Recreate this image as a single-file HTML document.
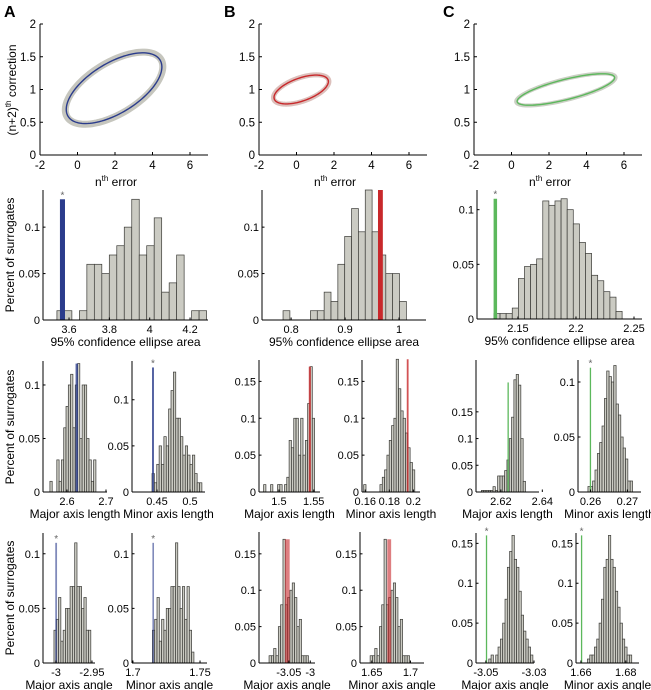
<!DOCTYPE html>
<html><head><meta charset="utf-8">
<style>
html,body{margin:0;padding:0;background:#fff;}
svg{display:block;font-family:"Liberation Sans",Arial,sans-serif;}
</style></head>
<body>
<svg id="fig" width="651" height="690" viewBox="0 0 651 690" xmlns="http://www.w3.org/2000/svg">
<text x="4" y="17" font-size="16" font-weight="bold">A</text>
<text x="224" y="17" font-size="16" font-weight="bold">B</text>
<text x="443" y="17" font-size="16" font-weight="bold">C</text>
<text transform="translate(16,90) rotate(-90)" text-anchor="middle" font-size="12">(n+2)<tspan font-size="8" dy="-5">th</tspan><tspan dy="5"> correction</tspan></text>
<text transform="translate(14,255) rotate(-90)" text-anchor="middle" font-size="12">Percent of surrogates</text>
<text transform="translate(14,427) rotate(-90)" text-anchor="middle" font-size="12">Percent of surrogates</text>
<text transform="translate(14,598) rotate(-90)" text-anchor="middle" font-size="12">Percent of surrogates</text>
</svg>
<script>
// ---------- ellipse data (data units) ----------
const ellipseCx = [1.95, 0.25, 2.9];
const ellipseCy = [1.02, 1.0, 1.0];
const ellipseAx = [2.55, 1.45, 2.6];
const ellipseAy = [0.54, 0.22, 0.24];
const ellipseCosD = [0.6, 0.55, 0.75];
const ellipseXTicks = [-2, 0, 2, 4, 6];
const ellipseYTicks = [0, 0.5, 1, 1.5, 2];
const ellipseYTickLabels = ["0", "0.5", "1", "1.5", "2"];

// ---------- histogram data ----------
const areaA = [0.01,0.01,0,0.01,0.06,0.06,0.05,0.07,0.08,0.1,0.13,0.07,0.08,0.11,0.03,0.04,0.07,0,0.01,0.01];
const areaB = [0.01,0,0,0,0.01,0.01,0.03,0.02,0.06,0.09,0.12,0.095,0.14,0.095,0.07,0.05,0.05,0.02];
const areaC = [0.005,0.005,0.005,0.01,0.037,0.048,0.05,0.055,0.108,0.104,0.108,0.11,0.1,0.087,0.07,0.06,0.04,0.035,0.025,0.02,0.007];
const majLenA = [0.01,0,0,0.03,0.01,0.03,0.06,0.08,0.1,0.11,0.06,0.1,0.12,0.05,0.1,0.1,0.05,0.03,0.01,0.03];
const minLenA = [0.02,0.01,0.03,0.05,0.03,0.06,0.05,0.09,0.11,0.13,0.08,0.08,0.06,0.04,0.05,0.04,0.03,0.04,0.02,0.01,0.01];
const majAngA = [0.03,0.04,0.06,0.02,0.03,0.05,0.05,0.07,0.07,0.11,0.07,0.07,0.05,0.06,0.03,0.03];
const minAngA = [0.03,0.04,0.06,0.02,0.04,0.03,0.05,0.05,0.07,0.07,0.11,0.07,0.05,0.07,0.04,0.07,0.03,0.01];
const majLenB = [0.01,0,0,0.01,0,0,0.01,0.01,0,0.01,0.02,0.07,0.06,0.1,0.1,0.05,0.1,0.05,0.07,0.12,0.17,0.1];
const minLenB = [0.01,0,0,0,0,0,0,0.01,0.02,0.03,0.05,0.07,0.09,0.1,0.18,0.14,0.11,0.1,0.08,0.06,0.04,0.03];
const majAngB = [0.01,0.01,0.02,0.01,0.05,0.08,0.17,0.08,0.09,0.1,0.11,0.09,0.05,0.06,0.01,0.01,0.01];
const minAngB = [0.01,0.01,0.02,0.01,0.05,0.08,0.17,0.08,0.09,0.1,0.11,0.09,0.05,0.06,0.01,0.01,0.01];
const majLenC = [0.003,0.003,0.003,0.003,0.003,0.01,0.003,0.03,0.03,0.03,0.04,0.06,0.1,0.14,0.21,0.22,0.2,0.1,0.02];
const minLenC = [0.005,0.005,0.01,0.02,0.035,0.045,0.06,0.085,0.11,0.105,0.1,0.115,0.08,0.07,0.05,0.04,0.03,0.01,0.01];
const majAngC = [0.005,0.01,0,0.01,0.02,0.03,0.05,0.08,0.12,0.14,0.16,0.13,0.12,0.09,0.06,0.04,0.03,0.02,0.01];
const minAngC = [0.005,0.01,0.01,0.02,0.03,0.05,0.08,0.12,0.13,0.16,0.13,0.12,0.09,0.07,0.05,0.03,0.02,0.01,0.01];
// bin start, bin width, observed value, observed marker width, marker height
const binStarts = [3.540, 0.785, 2.1293, 2.5562, 0.4424, -3.0028, 1.7145, 1.478, 0.1587, -3.096, 1.6478, 2.6106, 0.2593, -3.0488, 1.6629];
const binWidths = [0.0371, 0.0127, 0.00526, 0.0059, 0.0036, 0.0032, 0.00172, 0.00333, 0.00193, 0.0054, 0.003, 0.00112, 0.000637, 0.000965, 0.00104];
const observed = [3.555, 0.961, 2.129, 2.622, 0.4424, -3.001, 1.7145, 1.5429, 0.1945, -3.059, 1.670, 2.6232, 0.2598, -3.05, 1.66];
const observedW = [0.025, 0.009, 0.003, 0.006, 0.003, 0.0025, 0.0012, 0.003, 0.0015, 0.011, 0.005, 0.0005, 0.0003, 0.0005, 0.0005];
const observedH = [0.13, 0.14, 0.11, 0.12, 0.135, 0.11, 0.11, 0.17, 0.18, 0.17, 0.17, 0.205, 0.113, 0.16, 0.16];

const NS = "http://www.w3.org/2000/svg";
const svg = document.getElementById('fig');
function mk(tag, attrs, parent) {
  const e = document.createElementNS(NS, tag);
  for (const k in attrs) e.setAttribute(k, attrs[k]);
  (parent || svg).appendChild(e);
  return e;
}
function txt(x, y, s, anchor, size, parent) {
  const t = mk('text', {x: x, y: y, 'text-anchor': anchor, 'font-size': size}, parent);
  t.textContent = s;
  return t;
}

// ---------- ellipse panels ----------
const eLayout = [{l:40, r:208}, {l:259, r:427}, {l:474, r:642}];
const eColors = ['#2b3c8c', '#c8282b', '#5cb85c'];
const eBand = ['#c6c6be', '#dcc0bc', '#cbcfc4'];
const eBandW = [7, 5, 4];
eLayout.forEach((L, i) => {
  const g = mk('g', {});
  
  
  const px = 18.75, t = 24, b = 155;
  const xs = v => L.l + (v + 2) * px;
  const ys = v => b - v * (b - t) / 2;
  function ellPath(scale, dy) {
    let d = '';
    for (let k = 0; k <= 120; k++) {
      const th = k / 120 * 2 * Math.PI;
      const dd = Math.acos(ellipseCosD[i]);
      const x = ellipseCx[i] + ellipseAx[i] * scale * Math.cos(th);
      const y = ellipseCy[i] + dy + ellipseAy[i] * scale * Math.cos(th + dd);
      d += (k ? 'L' : 'M') + xs(x).toFixed(2) + ',' + ys(y).toFixed(2);
    }
    return d + 'Z';
  }
  const band = mk('path', {d: ellPath(1.02, 0.0), fill: 'none', stroke: eBand[i], 'stroke-width': eBandW[i]}, g);
  
  
  const el = mk('path', {d: ellPath(1, 0), fill: 'none', stroke: eColors[i], 'stroke-width': 1.4}, g);
  
  
  mk('line', {x1: L.l, y1: t, x2: L.l, y2: b, stroke: '#000', 'stroke-width': 1}, g);
  mk('line', {x1: L.l, y1: b, x2: L.r, y2: b, stroke: '#000', 'stroke-width': 1}, g);
  ellipseXTicks.forEach(v => {
    mk('line', {x1: xs(v), y1: b, x2: xs(v), y2: b - 3, stroke: '#000'}, g);
    txt(xs(v), b + 14, String(v), 'middle', 11.5, g);
  });
  ellipseYTicks.forEach((v, k) => {
    mk('line', {x1: L.l, y1: ys(v), x2: L.l + 3, y2: ys(v), stroke: '#000'}, g);
    txt(L.l - 4, ys(v) + 4, ellipseYTickLabels[k], 'end', 11.5, g);
  });
  const tt = mk('text', {x: (L.l + L.r) / 2 - 8, y: b + 31, 'text-anchor': 'middle', 'font-size': 12}, g);
  tt.innerHTML = 'n<tspan font-size="8" dy="-5">th</tspan><tspan dy="5"> error</tspan>';
});

// ---------- histogram panels (layout only) ----------
const H = [
 {n:'area-a', l:43, r:208, t:190, b:320, x0:3.471, x1:4.289, ymax:0.14, xt:[3.6,3.8,4,4.2], xl:['3.6','3.8','4','4.2'], yt:[0,0.05,0.1], yl:['0','0.05','0.1'], c:areaA, k:0, col:0, fill:1, star:1, title:'95% confidence ellipse area'},
 {n:'area-b', l:262, r:426, t:190, b:320, x0:0.746, x1:1.05, ymax:0.14, xt:[0.8,0.9,1], xl:['0.8','0.9','1'], yt:[0,0.05,0.1], yl:['0','0.05','0.1'], c:areaB, k:1, col:1, fill:1, star:0, title:'95% confidence ellipse area'},
 {n:'area-c', l:477, r:642, t:190, b:319, x0:2.1147, x1:2.2569, ymax:0.118, xt:[2.15,2.2,2.25], xl:['2.15','2.2','2.25'], yt:[0,0.05,0.1], yl:['0','0.05','0.1'], c:areaC, k:2, col:2, fill:1, star:1, title:'95% confidence ellipse area'},
 {n:'major-length-a', l:43, r:107, t:361, b:492, x0:2.5385, x1:2.7026, ymax:0.1224, xt:[2.6,2.7], xl:['2.6','2.7'], yt:[0,0.05,0.1], yl:['0','0.05','0.1'], c:majLenA, k:3, col:0, fill:0.8, star:0, title:'Major axis length'},
 {n:'minor-length-a', l:132, r:205, t:361, b:492, x0:0.4121, x1:0.5227, ymax:0.142, xt:[0.45,0.5], xl:['0.45','0.5'], yt:[0,0.05,0.1], yl:['0','0.05','0.1'], c:minLenA, k:4, col:0, fill:0.8, star:1, title:'Minor axis length'},
 {n:'major-angle-a', l:43, r:95, t:533, b:663, x0:-3.018, x1:-2.9458, ymax:0.119, xt:[-3,-2.95], xl:['-3','-2.95'], yt:[0,0.05,0.1], yl:['0','0.05','0.1'], c:majAngA, k:5, col:0, fill:0.6, star:1, title:'Major axis angle'},
 {n:'minor-angle-a', l:132, r:207, t:533, b:663, x0:1.6993, x1:1.7552, ymax:0.119, xt:[1.7,1.75], xl:['1.7','1.75'], yt:[0,0.05,0.1], yl:['0','0.05','0.1'], c:minAngA, k:6, col:0, fill:0.6, star:1, title:'Minor axis angle'},
 {n:'major-length-b', l:259, r:320, t:360, b:492, x0:1.4714, x1:1.559, ymax:0.179, xt:[1.5,1.55], xl:['1.5','1.55'], yt:[0,0.05,0.1,0.15], yl:['0','0.05','0.1','0.15'], c:majLenB, k:7, col:1, fill:0.8, star:0, title:'Major axis length'},
 {n:'minor-length-b', l:362, r:420, t:360, b:492, x0:0.1573, x1:0.2055, ymax:0.179, xt:[0.16,0.18,0.2], xl:['0.16','0.18','0.2'], yt:[0,0.05,0.1,0.15], yl:['0','0.05','0.1','0.15'], c:minLenB, k:8, col:1, fill:0.8, star:0, title:'Minor axis length'},
 {n:'major-angle-b', l:259, r:315, t:532, b:663, x0:-3.1194, x1:-2.989, ymax:0.18, xt:[-3.05,-3], xl:['-3.05','-3'], yt:[0,0.05,0.1,0.15], yl:['0','0.05','0.1','0.15'], c:majAngB, k:9, col:1, fill:0.6, star:0, title:'Major axis angle'},
 {n:'minor-angle-b', l:360, r:424, t:532, b:663, x0:1.6347, x1:1.7175, ymax:0.18, xt:[1.65,1.7], xl:['1.65','1.7'], yt:[0,0.05,0.1,0.15], yl:['0','0.05','0.1','0.15'], c:minAngB, k:10, col:1, fill:0.6, star:0, title:'Minor axis angle'},
 {n:'major-length-c', l:476, r:539, t:360, b:492, x0:2.608, x1:2.6384, ymax:0.247, xt:[2.62,2.64], xl:['2.62','2.64'], yt:[0,0.05,0.1,0.15], yl:['0','0.05','0.1','0.15'], c:majLenC, k:11, col:2, fill:1, star:0, title:'Major axis length'},
 {n:'minor-length-c', l:578, r:641, t:360, b:492, x0:0.2566, x1:0.2737, ymax:0.12, xt:[0.26,0.27], xl:['0.26','0.27'], yt:[0,0.05,0.1], yl:['0','0.05','0.1'], c:minLenC, k:12, col:2, fill:1, star:1, title:'Minor axis length'},
 {n:'major-angle-c', l:476, r:534, t:533, b:663, x0:-3.0541, x1:-3.03, ymax:0.163, xt:[-3.05,-3.03], xl:['-3.05','-3.03'], yt:[0,0.05,0.1,0.15], yl:['0','0.05','0.1','0.15'], c:majAngC, k:13, col:2, fill:1, star:1, title:'Major axis angle'},
 {n:'minor-angle-c', l:576, r:639, t:533, b:663, x0:1.6578, x1:1.6859, ymax:0.163, xt:[1.66,1.68], xl:['1.66','1.68'], yt:[0,0.05,0.1,0.15], yl:['0','0.05','0.1','0.15'], c:minAngC, k:14, col:2, fill:1, star:1, title:'Minor axis angle'}
];

H.forEach(p => {
  const g = mk('g', {});
  
  
  const xs = v => p.l + (v - p.x0) / (p.x1 - p.x0) * (p.r - p.l);
  const ys = v => p.b - v / p.ymax * (p.b - p.t);
  const s = binStarts[p.k], w = binWidths[p.k];
  p.c.forEach((v, i) => {
    if (v <= 0) return;
    const x1 = xs(s + i * w), x2 = xs(s + (i + 1) * w);
    const r = mk('rect', {x: x1, y: ys(v), width: Math.max(0.5, x2 - x1), height: p.b - ys(v), fill: '#cbcbc3', stroke: '#3a3a36', 'stroke-width': 0.7}, g);
    
    
  });
  const colr = eColors[p.col];
  const mx = xs(observed[p.k]);
  const mw = Math.max(1.3, xs(observed[p.k] + observedW[p.k]) - mx);
  const m = mk('rect', {x: mx, y: ys(observedH[p.k]), width: mw, height: p.b - ys(observedH[p.k]), fill: colr, 'fill-opacity': p.fill}, g);
  
  
  if (p.star) {
    const st = txt(mx + mw / 2, ys(observedH[p.k]) - 1, '*', 'middle', 10, g);
    st.setAttribute('fill', '#666');
  }
  mk('line', {x1: p.l, y1: p.t, x2: p.l, y2: p.b, stroke: '#000', 'stroke-width': 1}, g);
  mk('line', {x1: p.l, y1: p.b, x2: p.r, y2: p.b, stroke: '#000', 'stroke-width': 1}, g);
  p.xt.forEach((v, i) => {
    mk('line', {x1: xs(v), y1: p.b, x2: xs(v), y2: p.b - 2.5, stroke: '#000'}, g);
    txt(xs(v), p.b + 13, p.xl[i], 'middle', 11, g);
  });
  p.yt.forEach((v, i) => {
    mk('line', {x1: p.l, y1: ys(v), x2: p.l + 2.5, y2: ys(v), stroke: '#000'}, g);
    txt(p.l - 3, ys(v) + 4, p.yl[i], 'end', 11, g);
  });
  txt((p.l + p.r) / 2, p.b + 26, p.title, 'middle', 12, g);
});
</script>
</body></html>
